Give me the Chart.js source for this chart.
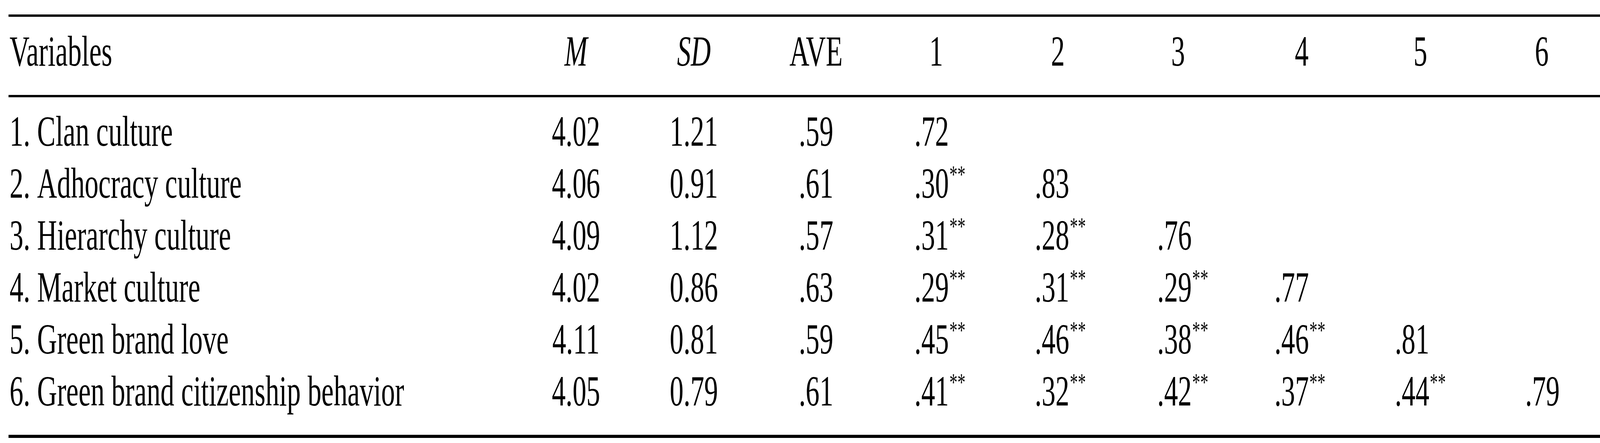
<!DOCTYPE html>
<html><head><meta charset="utf-8">
<script src="https://cdn.jsdelivr.net/npm/chart.js@4/dist/chart.umd.min.js"></script>
<style>html,body{margin:0;padding:0;background:#fff;overflow:hidden}#w{position:absolute;left:0;top:0;width:100vw;height:100vh}</style>
</head><body>
<div id="w"><canvas id="c"></canvas></div>
<script>
const headers = ["Variables","M","SD","AVE","1","2","3","4","5","6"];
const variables = ["1. Clan culture","2. Adhocracy culture","3. Hierarchy culture","4. Market culture","5. Green brand love","6. Green brand citizenship behavior"];
const means = ["4.02","4.06","4.09","4.02","4.11","4.05"];
const sds = ["1.21","0.91","1.12","0.86","0.81","0.79"];
const aves = [".59",".61",".57",".63",".59",".61"];
const corr = [
  [".72"],
  [".30**",".83"],
  [".31**",".28**",".76"],
  [".29**",".31**",".29**",".77"],
  [".45**",".46**",".38**",".46**",".81"],
  [".41**",".32**",".42**",".37**",".44**",".79"]
];

const FONT = '"Liberation Serif","Times New Roman",serif';
const headX = [38, 2296, 2766, 3253, 3732, 4217, 4696, 5189, 5662, 6146];
const valLeft = [3645, 4125, 4613, 5080, 5560, 6080];
const headBase = 168;
const rowBase = [373, 506, 639, 772, 905, 1038];

const tablePlugin = {
  id: 'table',
  afterDraw(chart) {
    const ctx = chart.ctx, xs = chart.scales.x, ys = chart.scales.y;
    const X = v => xs.getPixelForValue(v), Y = v => ys.getPixelForValue(v);
    const sx = (X(6378) - X(0)) / 6378, sy = (Y(1134) - Y(0)) / 1134;
    const f = (px, it) => (it ? 'italic ' : '') + (px * sy) + 'px ' + FONT;
    ctx.save();
    ctx.fillStyle = '#000';
    ctx.fillRect(X(34), Y(37), X(6378) - X(34), 6 * sy);
    ctx.fillRect(X(34), Y(243), X(6378) - X(34), 6 * sy);
    ctx.fillRect(X(34), Y(1113), X(6378) - X(34), 8 * sy);
    ctx.textBaseline = 'alphabetic';
    // horizontal squeeze if the canvas aspect differs from the reference
    const k = sx / sy;
    const txt = (s, x, y, align) => {
      ctx.save();
      ctx.translate(x, y);
      ctx.scale(k, 1);
      ctx.textAlign = align;
      ctx.fillText(s, 0, 0);
      ctx.restore();
    };
    headers.forEach((h, i) => {
      ctx.font = f(110, h === 'M' || h === 'SD');
      txt(h, X(headX[i]), Y(headBase), i === 0 ? 'left' : 'center');
    });
    variables.forEach((v, r) => {
      const yb = Y(rowBase[r]);
      ctx.font = f(110);
      txt(v, X(headX[0]), yb, 'left');
      txt(means[r], X(headX[1]), yb, 'center');
      txt(sds[r], X(headX[2]), yb, 'center');
      txt(aves[r], X(headX[3]), yb, 'center');
      corr[r].forEach((c, j) => {
        const num = c.replace(/\*+/g, '');
        const stars = c.slice(num.length);
        ctx.font = f(110);
        const x0 = X(valLeft[j]);
        txt(num, x0, yb, 'left');
        if (stars) {
          const w = ctx.measureText(num).width * k;
          ctx.font = f(64);
          txt(stars, x0 + w + 2 * sx, yb - 38 * sy, 'left');
        }
      });
    });
    ctx.restore();
  }
};

new Chart(document.getElementById('c'), {
  type: 'scatter',
  data: { datasets: [{ data: [], pointRadius: 0 }] },
  options: {
    responsive: true, maintainAspectRatio: false, animation: false,
    layout: { padding: 0 },
    plugins: { legend: { display: false }, tooltip: { enabled: false } },
    scales: {
      x: { type: 'linear', min: 0, max: 6378, display: false },
      y: { type: 'linear', min: 0, max: 1134, reverse: true, display: false }
    }
  },
  plugins: [tablePlugin]
});
</script>
</body></html>
